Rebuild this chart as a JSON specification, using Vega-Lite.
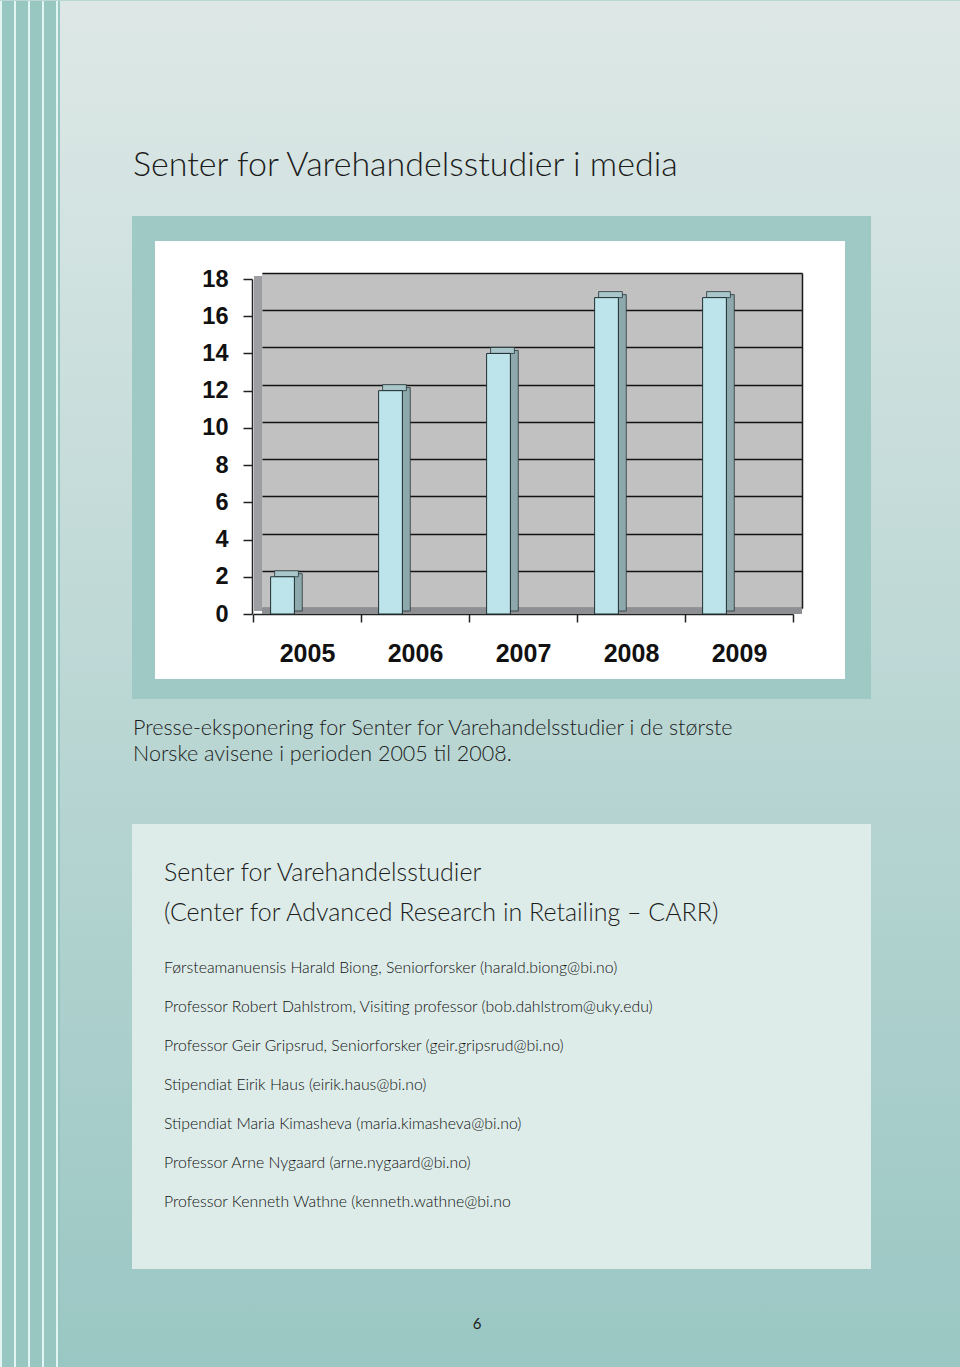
{
  "$schema": "https://vega.github.io/schema/vega-lite/v6.json",
  "padding": 0,
  "background": "#bbd7d4",
  "spacing": 0,
  "config": {
    "view": {"stroke": null},
    "concat": {"spacing": 0},
    "text": {"font": "Lato", "color": "#1c1c1c"}
  },
  "hconcat": [
    {
      "width": 60,
      "height": 1367,
      "view": {"fill": "#98c7c2", "stroke": null},
      "data": {"values": [{"s": 1}, {"s": 2}, {"s": 3}, {"s": 4}, {"s": 5}]},
      "mark": {"type": "rule", "color": "#e3f5f2", "strokeWidth": 2},
      "encoding": {
        "x": {"field": "s", "type": "ordinal", "scale": {"type": "point", "range": [1, 57], "padding": 0}, "axis": null}
      }
    },
    {
      "spacing": 0,
      "vconcat": [
        {
          "width": 900,
          "height": 215,
          "view": {"stroke": null, "fill": {"gradient": "linear", "x1": 0, "y1": 0, "x2": 0, "y2": 1, "stops": [{"offset": 0, "color": "#dde8e6"}, {"offset": 1, "color": "#d3e3e1"}]}},
          "data": {"values": [{"line": 1, "text": "Senter for Varehandelsstudier i media"}]},
          "mark": {"type": "text", "align": "left", "baseline": "alphabetic", "fontSize": 34, "fontWeight": 300, "dx": 73},
          "encoding": {
            "text": {"field": "text"},
            "x": {"value": 0},
            "y": {"field": "line", "type": "ordinal", "scale": {"type": "point", "range": [175, 175], "padding": 0}, "axis": null}
          }
        },
        {
          "spacing": 0,
          "hconcat": [
            {
              "width": 72,
              "height": 483,
              "view": {"stroke": null, "fill": {"gradient": "linear", "x1": 0, "y1": 0, "x2": 0, "y2": 1, "stops": [{"offset": 0, "color": "#d3e3e1"}, {"offset": 1, "color": "#bbd7d4"}]}},
              "data": {"values": [{}]},
              "mark": {"type": "text", "text": ""},
              "encoding": {}
            },
            {
              "spacing": 0,
              "vconcat": [
                {
                  "width": 739, "height": 25,
                  "view": {"stroke": null, "fill": "#9ec9c5"},
                  "data": {"values": [{}]},
                  "mark": {"type": "text", "text": ""},
                  "encoding": {}
                },
                {
                  "spacing": 0,
                  "hconcat": [
                    {
                      "width": 23, "height": 438,
                      "view": {"stroke": null, "fill": "#9ec9c5"},
                      "data": {"values": [{}]},
                      "mark": {"type": "text", "text": ""},
                      "encoding": {}
                    },
                    {
                      "width": 690,
                      "height": 438,
                      "view": {"fill": "white", "stroke": null},
                      "data": {"values": [
                        {"year": "2005", "value": 2},
                        {"year": "2006", "value": 12},
                        {"year": "2007", "value": 14},
                        {"year": "2008", "value": 17},
                        {"year": "2009", "value": 17}
                      ]},
                      "layer": [
                        {
                          "mark": {"type": "bar", "fill": "#000006", "fillOpacity": 0.245, "stroke": null},
                          "encoding": {
                            "x": {"field": "year", "type": "ordinal", "scale": {"type": "band", "range": [107, 647], "paddingInner": 0, "paddingOuter": 0}, "axis": null},
                            "y": {"datum": 18, "type": "quantitative", "scale": {"domain": [0, 18], "range": [367, 32], "nice": false, "zero": false},
                              "axis": {"orient": "left", "labels": false, "ticks": false, "domain": false, "grid": true, "gridColor": "#1a1a1a", "gridWidth": 1.7, "gridOpacity": 1, "values": [0, 2, 4, 6, 8, 10, 12, 14, 16, 18], "title": null}},
                            "y2": {"datum": 0}
                          }
                        },
                        {
                          "transform": [{"filter": "datum.year == '2005'"}],
                          "mark": {"type": "bar", "fill": "#9d9ea2", "stroke": null, "yOffset": -3, "y2Offset": -3},
                          "encoding": {
                            "x": {"field": "year", "type": "ordinal", "scale": {"type": "band", "range": [99, 107], "paddingInner": 0, "paddingOuter": 0}, "axis": null},
                            "y": {"datum": 18, "type": "quantitative", "scale": {"domain": [0, 18], "range": [373, 38], "nice": false, "zero": false}, "axis": null},
                            "y2": {"datum": 0}
                          }
                        },
                        {
                          "mark": {"type": "bar", "fill": "#8e8f93", "stroke": null, "y2Offset": 6},
                          "encoding": {
                            "x": {"field": "year", "type": "ordinal", "scale": {"type": "band", "range": [107, 647], "paddingInner": 0, "paddingOuter": 0}, "axis": null},
                            "y": {"datum": 0, "type": "quantitative", "scale": {"domain": [0, 18], "range": [367, 32], "nice": false, "zero": false},
                              "axis": {"orient": "right", "offset": -43, "labels": false, "ticks": false, "grid": false, "domain": true, "domainColor": "#1a1a1a", "domainWidth": 1.5, "title": null}},
                            "y2": {"datum": 0}
                          }
                        },
                        {
                          "mark": {"type": "bar", "fill": "#8ea9ad", "stroke": "#263436", "strokeWidth": 0.8, "xOffset": -8.8, "yOffset": -3, "y2Offset": -3, "width": {"band": 0.075}},
                          "encoding": {
                            "x": {"field": "year", "type": "ordinal", "scale": {"type": "band", "range": [98, 638], "paddingInner": 0, "paddingOuter": 0}, "axis": null},
                            "y": {"field": "value", "type": "quantitative", "scale": {"domain": [0, 18], "range": [373, 38], "nice": false, "zero": false}, "axis": null},
                            "y2": {"datum": 0}
                          }
                        },
                        {
                          "mark": {"type": "bar", "fill": "#a9c7cb", "stroke": "#263436", "strokeWidth": 0.8, "xOffset": -20.5, "yOffset": -6, "y2Offset": 0, "width": {"band": 0.22}},
                          "encoding": {
                            "x": {"field": "year", "type": "ordinal", "scale": {"type": "band", "range": [98, 638], "paddingInner": 0, "paddingOuter": 0}, "axis": null},
                            "y": {"field": "value", "type": "quantitative", "scale": {"domain": [0, 18], "range": [373, 38], "nice": false, "zero": false}, "axis": null},
                            "y2": {"field": "value"}
                          }
                        },
                        {
                          "mark": {"type": "bar", "fill": "#bde4ea", "stroke": "#1f2f31", "strokeWidth": 1, "xOffset": -24.5, "width": {"band": 0.22}},
                          "encoding": {
                            "x": {"field": "year", "type": "ordinal", "scale": {"type": "band", "range": [98, 638], "paddingInner": 0, "paddingOuter": 0},
                              "axis": {"orient": "bottom", "offset": -65, "tickBand": "extent", "tickSize": 8, "tickColor": "#222", "tickWidth": 1.5, "domainColor": "#222", "domainWidth": 1.5, "labelFont": "Liberation Sans", "labelFontWeight": "bold", "labelFontSize": 25, "labelColor": "#111", "labelPadding": 19, "labelAngle": 0, "grid": false, "title": null}},
                            "y": {"field": "value", "type": "quantitative", "scale": {"domain": [0, 18], "range": [373, 38], "nice": false, "zero": false},
                              "axis": {"orient": "left", "offset": -97, "values": [0, 2, 4, 6, 8, 10, 12, 14, 16, 18], "grid": false, "domainColor": "#222", "domainWidth": 1.5, "tickSize": 9, "tickColor": "#222", "tickWidth": 1.5, "labelFont": "Liberation Sans", "labelFontWeight": "bold", "labelFontSize": 23.5, "labelColor": "#111", "labelPadding": 15, "title": null}},
                            "y2": {"datum": 0}
                          }
                        }
                      ],
                      "resolve": {"scale": {"x": "independent", "y": "independent"}}
                    },
                    {
                      "width": 26, "height": 438,
                      "view": {"stroke": null, "fill": "#9ec9c5"},
                      "data": {"values": [{}]},
                      "mark": {"type": "text", "text": ""},
                      "encoding": {}
                    }
                  ]
                },
                {
                  "width": 739, "height": 20,
                  "view": {"stroke": null, "fill": "#9ec9c5"},
                  "data": {"values": [{}]},
                  "mark": {"type": "text", "text": ""},
                  "encoding": {}
                }
              ]
            },
            {
              "width": 89,
              "height": 483,
              "view": {"stroke": null, "fill": {"gradient": "linear", "x1": 0, "y1": 0, "x2": 0, "y2": 1, "stops": [{"offset": 0, "color": "#d3e3e1"}, {"offset": 1, "color": "#bbd7d4"}]}},
              "data": {"values": [{}]},
              "mark": {"type": "text", "text": ""},
              "encoding": {}
            }
          ]
        },
        {
          "width": 900,
          "height": 125,
          "view": {"stroke": null, "fill": {"gradient": "linear", "x1": 0, "y1": 0, "x2": 0, "y2": 1, "stops": [{"offset": 0, "color": "#bbd7d4"}, {"offset": 1, "color": "#b5d4d1"}]}},
          "data": {"values": [
            {"line": 1, "text": "Presse-eksponering for Senter for Varehandelsstudier i de største"},
            {"line": 2, "text": "Norske avisene i perioden 2005 til 2008."}
          ]},
          "mark": {"type": "text", "align": "left", "baseline": "alphabetic", "fontSize": 21.5, "fontWeight": 300, "dx": 73},
          "encoding": {
            "text": {"field": "text"},
            "x": {"value": 0},
            "y": {"field": "line", "type": "ordinal", "scale": {"type": "point", "range": [36, 62], "padding": 0}, "axis": null}
          }
        },
        {
          "spacing": 0,
          "hconcat": [
            {
              "width": 72,
              "height": 445,
              "view": {"stroke": null, "fill": {"gradient": "linear", "x1": 0, "y1": 0, "x2": 0, "y2": 1, "stops": [{"offset": 0, "color": "#b5d4d1"}, {"offset": 1, "color": "#9fc9c6"}]}},
              "data": {"values": [{}]},
              "mark": {"type": "text", "text": ""},
              "encoding": {}
            },
            {
              "width": 739,
              "height": 445,
              "view": {"stroke": null, "fill": "#ddece9"},
              "layer": [
                {
                  "data": {"values": [
                    {"line": 1, "text": "Senter for Varehandelsstudier"},
                    {"line": 2, "text": "(Center for Advanced Research in Retailing – CARR)"}
                  ]},
                  "mark": {"type": "text", "align": "left", "baseline": "alphabetic", "fontSize": 25, "fontWeight": 300, "dx": 32},
                  "encoding": {
                    "text": {"field": "text"},
                    "x": {"value": 0},
                    "y": {"field": "line", "type": "ordinal", "scale": {"type": "point", "range": [57, 97], "padding": 0}, "axis": null}
                  }
                },
                {
                  "data": {"values": [
                    {"item": 1, "text": "Førsteamanuensis Harald Biong, Seniorforsker (harald.biong@bi.no)"},
                    {"item": 2, "text": "Professor Robert Dahlstrom, Visiting professor (bob.dahlstrom@uky.edu)"},
                    {"item": 3, "text": "Professor Geir Gripsrud, Seniorforsker (geir.gripsrud@bi.no)"},
                    {"item": 4, "text": "Stipendiat Eirik Haus (eirik.haus@bi.no)"},
                    {"item": 5, "text": "Stipendiat Maria Kimasheva (maria.kimasheva@bi.no)"},
                    {"item": 6, "text": "Professor Arne Nygaard (arne.nygaard@bi.no)"},
                    {"item": 7, "text": "Professor Kenneth Wathne (kenneth.wathne@bi.no"}
                  ]},
                  "mark": {"type": "text", "align": "left", "baseline": "alphabetic", "fontSize": 15.8, "fontWeight": 300, "color": "#111111", "dx": 32},
                  "encoding": {
                    "text": {"field": "text"},
                    "x": {"value": 0},
                    "y": {"field": "item", "type": "ordinal", "scale": {"type": "point", "range": [149, 383], "padding": 0}, "axis": null}
                  }
                }
              ],
              "resolve": {"scale": {"y": "independent"}}
            },
            {
              "width": 89,
              "height": 445,
              "view": {"stroke": null, "fill": {"gradient": "linear", "x1": 0, "y1": 0, "x2": 0, "y2": 1, "stops": [{"offset": 0, "color": "#b5d4d1"}, {"offset": 1, "color": "#9fc9c6"}]}},
              "data": {"values": [{}]},
              "mark": {"type": "text", "text": ""},
              "encoding": {}
            }
          ]
        },
        {
          "width": 900,
          "height": 99,
          "view": {"stroke": null, "fill": {"gradient": "linear", "x1": 0, "y1": 0, "x2": 0, "y2": 1, "stops": [{"offset": 0, "color": "#9fc9c6"}, {"offset": 1, "color": "#9ac7c3"}]}},
          "data": {"values": [{"line": 1, "text": "6"}]},
          "mark": {"type": "text", "align": "center", "baseline": "alphabetic", "fontSize": 15, "fontWeight": 400, "dx": 417},
          "encoding": {
            "text": {"field": "text"},
            "x": {"value": 0},
            "y": {"field": "line", "type": "ordinal", "scale": {"type": "point", "range": [60, 60], "padding": 0}, "axis": null}
          }
        }
      ]
    }
  ]
}
